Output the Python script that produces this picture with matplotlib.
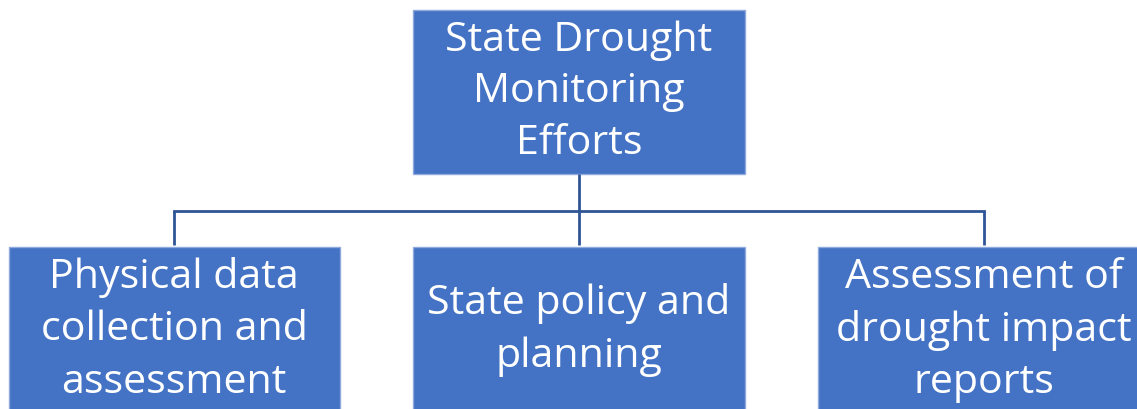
import matplotlib
matplotlib.use("Agg")
import matplotlib.pyplot as plt
from matplotlib.patches import Rectangle

root_label = "State Drought\nMonitoring\nEfforts"
child_labels = [
    "Physical data\ncollection and\nassessment",
    "State policy and\nplanning",
    "Assessment of\ndrought impact\nreports",
]

W, H = 1137, 409
fill = "#4472C4"
edge = "#8FAADC"
line_c = "#2F5597"

fig = plt.figure(figsize=(W / 100, H / 100), dpi=100)
ax = fig.add_axes([0, 0, 1, 1])
ax.set_xlim(0, W)
ax.set_ylim(H, 0)
ax.axis("off")

root_box = (413, 10, 332, 164)
child_boxes = [(9, 247, 331, 175), (413, 247, 332, 175), (818, 247, 331, 175)]
bar_y = 211

# connectors
rx = root_box[0] + root_box[2] / 2
ax.plot([rx, rx], [root_box[1] + root_box[3], bar_y], color=line_c, lw=2, solid_capstyle="butt")
cxs = [174, 579, 984]
ax.plot([cxs[0], cxs[2]], [bar_y, bar_y], color=line_c, lw=2, solid_capstyle="projecting")
for cx in cxs:
    ax.plot([cx, cx], [bar_y, 245], color=line_c, lw=2, solid_capstyle="butt")

font = "Open Sans"
fs = 29.6

x, y, w, h = root_box
ax.add_patch(Rectangle((x, y), w, h, facecolor=fill, edgecolor=edge, lw=1))
ax.text(x + w / 2, 92, root_label, ha="center", va="center", color="white",
        fontsize=fs, family=font, linespacing=1.36)

text_xs = [174, 579, 984]
for (x, y, w, h), lab, tx in zip(child_boxes, child_labels, text_xs):
    ax.add_patch(Rectangle((x, y), w, h, facecolor=fill, edgecolor=edge, lw=1))
    ax.text(tx, 330, lab, ha="center", va="center",
            color="white", fontsize=fs, family=font, linespacing=1.38)

fig.savefig("out.png", dpi=100)
